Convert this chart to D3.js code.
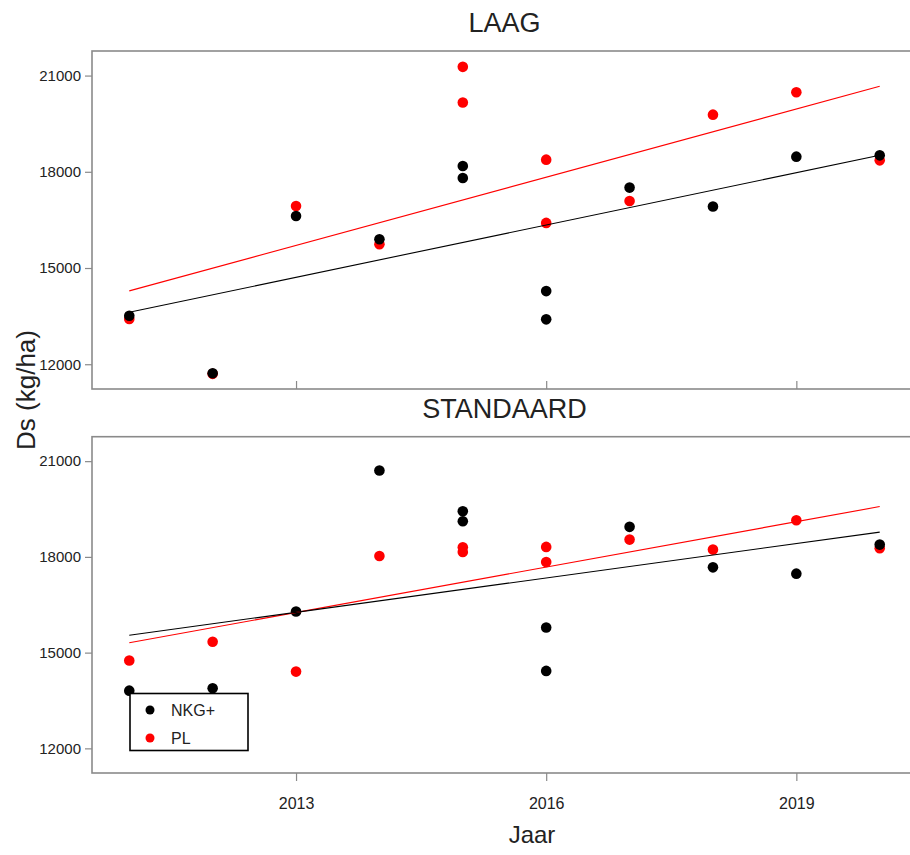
<!DOCTYPE html>
<html>
<head>
<meta charset="utf-8">
<script src="https://cdn.jsdelivr.net/npm/d3@7"></script>
<style>
  body { margin: 0; background: #fff; }
  svg { display: block; font-family: "Liberation Sans", Arial, sans-serif; }
</style>
</head>
<body>
<svg id="chart" width="910" height="855"></svg>
<script>
// ---- data ----
const years = [2011, 2012, 2013, 2014, 2015, 2015, 2016, 2016, 2017, 2018, 2019, 2020];
const laagNKG = [13512, 11720, 16624, 15899, 18180, 17806, 14281, 13400, 17507, 16916, 18472, 18512];
const laagPL  = [13409, 11700, 16935, 15743, 21272, 20161, 18378, 16406, 17090, 19782, 20482, 18357];
const standaardNKG = [13809, 13884, 16290, 20709, 19431, 19117, 15788, 14428, 18941, 17672, 17474, 18385];
const standaardPL  = [14751, 15339, 14406, 18030, 18300, 18156, 18313, 17842, 18542, 18228, 19148, 18269];
const yTicks = [12000, 15000, 18000, 21000];
const xTicks = [2013, 2016, 2019];
const panelTitles = ["LAAG", "STANDAARD"];
const seriesNames = ["NKG+", "PL"];
const seriesColors = ["#000000", "#ff0000"];

// ---- layout ----
const svg = d3.select("#chart");
const left = 92, right = 917;
const panels = [
  { title: panelTitles[0], top: 51, bottom: 389, nkg: laagNKG, pl: laagPL, labels: false },
  { title: panelTitles[1], top: 436.7, bottom: 773, nkg: standaardNKG, pl: standaardPL, labels: true }
];
const x = d3.scaleLinear().domain([2010.553, 2020.447]).range([left, right]);
const frameColor = "#8a8a8a";
const textColor = "#222";

function fit(xs, ys) {
  const mx = d3.mean(xs), my = d3.mean(ys);
  let sxy = 0, sxx = 0;
  xs.forEach((v, i) => { sxy += (v - mx) * (ys[i] - my); sxx += (v - mx) * (v - mx); });
  const b = sxy / sxx;
  return v => my + b * (v - mx);
}

panels.forEach(p => {
  const y = d3.scaleLinear().domain([11228, 21766]).range([p.bottom, p.top]);
  const g = svg.append("g");

  // frame
  g.append("rect")
    .attr("x", left).attr("y", p.top)
    .attr("width", right - left).attr("height", p.bottom - p.top)
    .attr("fill", "none").attr("stroke", frameColor).attr("stroke-width", 1.6);

  // y axis
  const ya = g.append("g").attr("transform", `translate(${left},0)`)
    .call(d3.axisLeft(y).tickValues(yTicks).tickSize(7).tickPadding(4).tickFormat(d3.format("d")));
  ya.select(".domain").remove();
  ya.selectAll("line").attr("stroke", frameColor).attr("stroke-width", 1.2);
  ya.selectAll("text").attr("fill", textColor).style("font-size", "15px");

  // x axis
  if (p.labels) {
    const xa = g.append("g").attr("transform", `translate(0,${p.bottom})`)
      .call(d3.axisBottom(x).tickValues(xTicks).tickSize(8).tickPadding(17).tickFormat(d3.format("d")));
    xa.select(".domain").remove();
    xa.selectAll("line").attr("stroke", frameColor).attr("stroke-width", 1.2);
    xa.selectAll("text").attr("fill", textColor).style("font-size", "16px");
  } else {
    const xa = g.append("g").attr("transform", `translate(0,${p.bottom})`)
      .call(d3.axisBottom(x).tickValues(xTicks).tickSize(-8).tickFormat(""));
    xa.select(".domain").remove();
    xa.selectAll("line").attr("stroke", frameColor).attr("stroke-width", 1.2);
  }

  // title
  svg.append("text")
    .attr("x", (left + right) / 2).attr("y", p.top - 19)
    .attr("text-anchor", "middle").attr("fill", textColor)
    .style("font-size", "27px").text(p.title);

  // points: red first, black on top
  const series = [{ vals: p.pl, color: seriesColors[1] }, { vals: p.nkg, color: seriesColors[0] }];
  series.forEach(s => {
    g.selectAll(null).data(s.vals).enter().append("circle")
      .attr("cx", (d, i) => x(years[i]))
      .attr("cy", d => y(d))
      .attr("r", 5.3)
      .attr("fill", s.color);
  });

  // regression lines
  series.forEach(s => {
    const f = fit(years, s.vals);
    const x0 = d3.min(years), x1 = d3.max(years);
    g.append("line")
      .attr("x1", x(x0)).attr("y1", y(f(x0)))
      .attr("x2", x(x1)).attr("y2", y(f(x1)))
      .attr("stroke", s.color).attr("stroke-width", 1.1);
  });
});

// axis titles
svg.append("text")
  .attr("transform", "translate(35,390) rotate(-90)")
  .attr("text-anchor", "middle").attr("fill", textColor)
  .style("font-size", "26px").text("Ds (kg/ha)");
svg.append("text")
  .attr("x", 532).attr("y", 843)
  .attr("text-anchor", "middle").attr("fill", textColor)
  .style("font-size", "24px").text("Jaar");

// legend
const lg = svg.append("g");
lg.append("rect").attr("x", 130).attr("y", 693.5).attr("width", 118).attr("height", 57)
  .attr("fill", "#fff").attr("stroke", "#000").attr("stroke-width", 1.6);
seriesNames.forEach((n, i) => {
  lg.append("circle").attr("cx", 150).attr("cy", 710 + i * 28).attr("r", 4.5).attr("fill", seriesColors[i]);
  lg.append("text").attr("x", 171).attr("y", 716 + i * 28).attr("fill", textColor)
    .style("font-size", "16px").text(n);
});
</script>
</body>
</html>
